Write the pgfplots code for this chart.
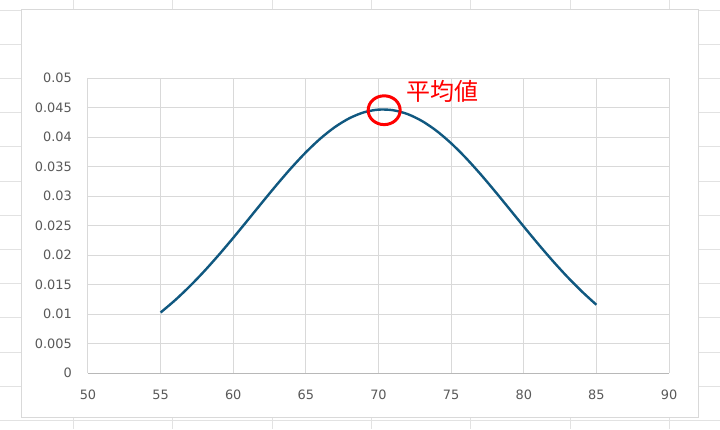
\documentclass[border=0pt]{standalone}
\usepackage{pgfplots}
\pgfplotsset{compat=1.18}
\usepackage{fontspec}
\setmainfont{DejaVu Sans}
\newfontfamily\cjk{Noto Sans CJK JP}
\definecolor{curve}{RGB}{16,88,128}
\definecolor{gridc}{RGB}{217,217,217}
\definecolor{sheet}{RGB}{226,226,226}
\definecolor{tickc}{RGB}{89,89,89}
\begin{document}
\begin{tikzpicture}[x=1pt,y=1pt]
\path[use as bounding box] (0,0) rectangle (720,429);
% spreadsheet background grid
\foreach \xx in {73,172,272,371,470,570,669} {\draw[sheet, line width=0.8pt] (\xx,0) -- (\xx,429);}
\foreach \yy in {10,44.2,78.4,112.6,146.8,181,215.2,249.4,283.6,317.8,352,386.2,420.4} {\draw[sheet, line width=0.8pt] (0,429-\yy) -- (720,429-\yy);}
% chart area
\draw[gridc, fill=white, line width=1.2pt] (21.5,11.5) rectangle (698.5,419.5);
\begin{axis}[
  scale only axis,
  width=581pt, height=295pt,
  at={(88pt,56pt)}, anchor=south west,
  xmin=50, xmax=90, ymin=0, ymax=0.05,
  scaled y ticks=false, scaled x ticks=false,
  xtick={50,55,60,65,70,75,80,85,90},
  xticklabels={50,55,60,65,70,75,80,85,90},
  ytick={0,0.005,0.01,0.015,0.02,0.025,0.03,0.035,0.04,0.045,0.05},
  yticklabels={0,0.005,0.01,0.015,0.02,0.025,0.03,0.035,0.04,0.045,0.05},
  grid=major,
  major grid style={gridc, line width=1pt},
  major tick length=0pt,
  axis line style={draw=none},
  tick label style={font=\fontsize{12.9}{15}\selectfont, text=tickc, inner sep=0pt},
  yticklabel style={anchor=east, xshift=-16pt},
  xticklabel style={anchor=north, yshift=-16.5pt},
  clip=false,
]
\draw[gridc!85!black, line width=1pt] (axis cs:50,0) -- (axis cs:90,0);
\addplot[curve, line width=2.4pt, smooth, no markers] coordinates {
(55,0.010254) (56,0.012350) (57,0.014686) (58,0.017247) (59,0.020003)
(60,0.022909) (61,0.025912) (62,0.028942) (63,0.031923) (64,0.034773)
(65,0.037407) (66,0.039738) (67,0.041687) (68,0.043187) (69,0.044185)
(70,0.044641) (71,0.044540) (72,0.043886) (73,0.042703) (74,0.041033)
(75,0.038938) (76,0.036490) (77,0.033768) (78,0.030861) (79,0.027852)
(80,0.024823) (81,0.021849) (82,0.018991) (83,0.016300) (84,0.013818)
(85,0.011566)
};
\draw[red, line width=3pt] (axis cs:70.39,0.04454) ellipse [x radius=16pt, y radius=14.4pt];
\node[anchor=west, inner sep=0pt, text=red, font=\cjk\fontsize{24}{28}\selectfont] at (axis cs:71.9,0.0478) {平均値};
\end{axis}
\end{tikzpicture}
\end{document}
